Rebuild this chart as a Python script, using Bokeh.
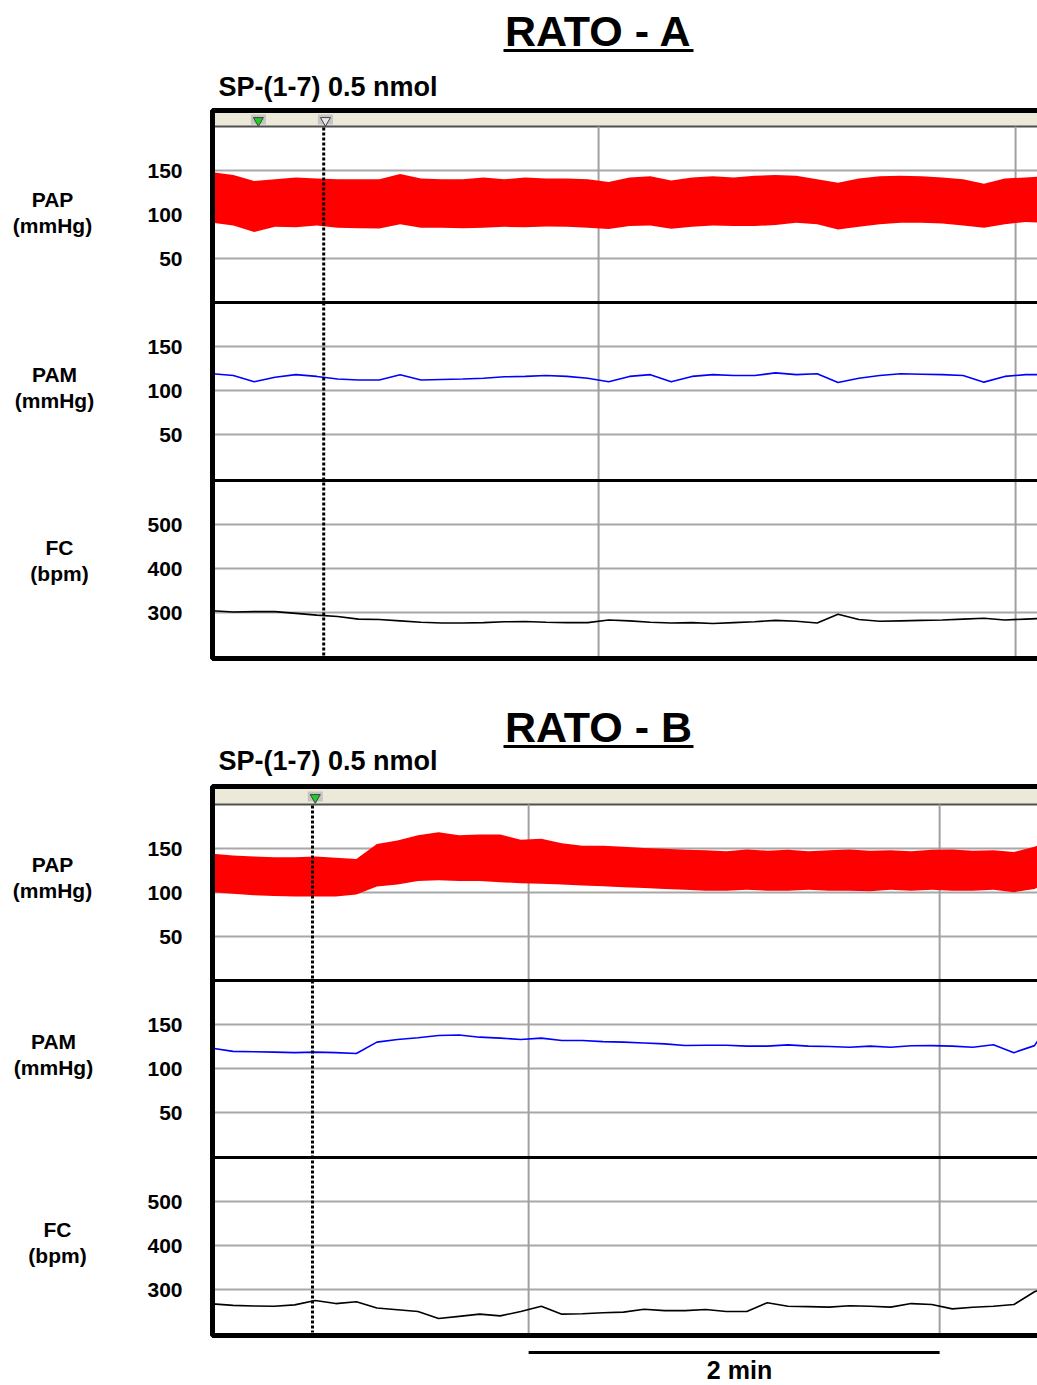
from bokeh.plotting import figure
from bokeh.models import Range1d
from bokeh.core.properties import value
from bokeh.embed import file_html
from bokeh.resources import INLINE

W, H = 1037, 1385
FONT = value("Liberation Sans")

# ---------------- data (time in seconds, pressures mmHg, HR bpm) ----------------
t_a = list(range(0, 241, 6))
pap_a_sys = [148, 145, 138, 140, 142, 141, 140, 140, 140, 146, 141, 140, 140, 142, 140, 142,
             141, 141, 140, 137, 142, 143.5, 138.5, 142, 143.5, 142, 144, 145, 144, 140, 136,
             141, 143.5, 144, 143.5, 142, 140, 135, 141, 142, 143.5]
pap_a_dia = [90.6, 87.5, 80, 86, 85.6, 87.5, 85, 84.5, 84, 89, 85, 85, 84.5, 85, 86, 85.6,
             86.5, 86, 85, 83.5, 86.8, 87.5, 83.7, 86, 87.5, 86.8, 87, 88, 90.6, 89, 83,
             86, 89, 90.6, 90.6, 89.8, 87.5, 85, 89, 91.5, 90.6]
pam_a = [119, 117, 110, 115, 118, 116, 113, 112, 112, 118, 112, 112.5, 113, 114, 115.6, 116,
         117, 116, 114, 110, 116, 118, 110, 116, 118, 117, 117, 120, 118, 119, 109,
         114, 117, 119, 118.5, 118, 117, 109.5, 116, 118, 118]
fc_a = [304, 301, 302, 302, 298, 294, 291, 285, 284, 281, 278, 276, 276, 277, 279, 279.5,
        278, 277, 277, 283, 281, 278, 276, 277, 275, 277, 279, 282, 280, 276, 296,
        284, 280, 281, 282, 283, 285, 287, 283, 285, 287]

t_b = list(range(0, 241, 6)) + [241]
pap_b_sys = [144, 142, 141, 140, 140, 141, 139.4, 138, 155, 159, 165, 168.6, 165, 166, 166, 160,
             161, 156, 153, 153, 152, 150.5, 149.6, 148.5, 148, 147, 149, 147.5, 148.5, 147,
             148, 149, 147.5, 148, 147, 148.5, 149, 147.5, 148, 146, 152, 153.4]
pap_b_dia = [100.4, 98.5, 97, 96, 95.5, 95.5, 95.5, 97.7, 106.8, 109, 113, 114, 113, 113, 111.7, 110.6,
             110, 109, 108, 107, 106, 105, 104, 103, 102, 102, 103, 102, 102, 103,
             102, 102, 101.5, 103, 102, 103, 102, 102, 103, 100.4, 104, 106]
pam_b = [123, 119.5, 119, 118.6, 118, 118.6, 118, 117, 130, 133, 135, 137.5, 138, 135.6, 134.5, 133,
         134.5, 131.8, 131.8, 130.5, 130, 129, 128, 126.1, 126.5, 126.5, 125.4, 125.4, 126.9, 125.4,
         125, 124.2, 125.4, 124.2, 125.8, 126, 125.4, 124.2, 126.9, 118, 126, 131.8]
fc_b = [267.4, 264, 262.5, 262, 265, 275, 268, 272, 258, 254, 250, 234, 239, 244, 240, 250,
        262, 244, 245, 247, 248.5, 255, 252, 252, 254.5, 250, 250, 270, 262, 261,
        260, 263, 262, 260, 268, 266, 256, 259.8, 262, 266, 295, 297.7]

inj_a, inj_b = 32, 29.2              # injection (dotted line), s
markers_a = [13.2, 32.5]              # event markers, s
markers_b = [30.0]
grid_a = [111.1, 231.1]               # vertical grid (every 2 min), s
grid_b = [92.3, 212.3]
scale_bar_s = 120                     # 2 min

press_ticks = [50, 100, 150]
hr_ticks = [300, 400, 500]
strip_names = ["PAP", "PAM", "FC"]
strip_units = ["(mmHg)", "(mmHg)", "(bpm)"]

# ---------------- figure ----------------
p = figure(width=W, height=H, x_range=Range1d(0, W), y_range=Range1d(H, 0),
           output_backend="svg", toolbar_location=None, min_border=0,
           x_axis_location=None, y_axis_location=None, outline_line_color=None)
p.grid.visible = False
p.background_fill_color = "white"
p.border_fill_color = "white"

X0 = 212          # left edge of the recording window
STRIP_H = 176


def strip_range(lo, hi, top):
    s = (hi - lo) / STRIP_H
    return Range1d(start=hi - (H - top) * s, end=hi + top * s)


def panel(key, t, sys, dia, pam, fc, inj, markers, marker_fills, grid_t, pxps,
          border_top, header_top, strip_tops, bottom, title, title_y, sub_y,
          label_pos):
    xr = "t" + key
    p.extra_x_ranges[xr] = Range1d(-X0 / pxps, (W - X0) / pxps)
    t_end = (W - X0) / pxps + 10
    specs = [((0, 200), press_ticks), ((0, 200), press_ticks), ((200, 600), hr_ticks)]
    yrs = []
    for i, ((lo, hi), ticks) in enumerate(specs):
        yn = f"{key}{i}"
        p.extra_y_ranges[yn] = strip_range(lo, hi, strip_tops[i])
        yrs.append(yn)

    # header band
    p.quad(left=[X0], right=[W + 10], top=[header_top], bottom=[strip_tops[0]],
           fill_color="#ECE9D8", line_color=None)
    p.segment(x0=[X0], x1=[W + 10], y0=[strip_tops[0]], y1=[strip_tops[0]],
              line_color="#505050", line_width=2)

    # grid lines
    for i, ((lo, hi), ticks) in enumerate(specs):
        p.segment(x0=[0] * 3, x1=[t_end] * 3, y0=ticks, y1=ticks,
                  x_range_name=xr, y_range_name=yrs[i],
                  line_color="#A8A8A8", line_width=2)
    p.segment(x0=grid_t, x1=grid_t, y0=[strip_tops[0]] * len(grid_t), y1=[bottom] * len(grid_t),
              x_range_name=xr, line_color="#A0A0A0", line_width=2)

    # traces
    p.varea(x=t, y1=dia, y2=sys, fill_color="#FF0000", x_range_name=xr, y_range_name=yrs[0])
    p.line(t, pam, line_color="#0000FF", line_width=1.6, x_range_name=xr, y_range_name=yrs[1])
    p.line(t, fc, line_color="black", line_width=1.6, x_range_name=xr, y_range_name=yrs[2])

    # separators and border
    for st in strip_tops[1:]:
        p.segment(x0=[X0], x1=[W + 10], y0=[st], y1=[st], line_color="black", line_width=3)
    p.quad(left=[X0], right=[W + 30], top=[border_top], bottom=[bottom],
           fill_color=None, line_color="black", line_width=5)

    # injection line
    p.segment(x0=[inj], x1=[inj], y0=[strip_tops[0] + 1], y1=[bottom - 3],
              x_range_name=xr, line_color="black", line_width=3, line_dash="3 2")

    # event markers
    my = (header_top + strip_tops[0]) / 2
    p.rect(x=markers, y=[my] * len(markers), width=15, height=10,
           width_units="screen", height_units="screen",
           fill_color="#C4C4C4", line_color=None, x_range_name=xr)
    p.scatter(x=markers, y=[my + 1] * len(markers), marker="inverted_triangle", size=10,
              fill_color=marker_fills, line_color="#404040", line_width=1, x_range_name=xr)

    # tick labels
    for i, ((lo, hi), ticks) in enumerate(specs):
        p.text(x=[182] * 3, y=ticks, text=[str(v) for v in ticks], y_range_name=yrs[i],
               text_align="right", text_baseline="middle", text_font=FONT,
               text_font_style="bold", text_font_size="21px", text_color="black")

    # strip labels
    for i in range(3):
        lx, ly = label_pos[i]
        p.text(x=[lx, lx], y=[ly, ly + 26], text=[strip_names[i], strip_units[i]],
               text_align="center", text_baseline="middle", text_font=FONT,
               text_font_style="bold", text_font_size="21px", text_color="black")

    # titles
    p.text(x=[598], y=[title_y], text=[title], text_align="center", text_baseline="middle",
           text_font=FONT, text_font_style="bold", text_font_size="43px", text_color="black")
    p.segment(x0=[503], x1=[693], y0=[title_y + 20], y1=[title_y + 20],
              line_color="black", line_width=3)
    p.text(x=[218], y=[sub_y], text=["SP-(1-7)  0.5 nmol"], text_align="left",
           text_baseline="middle", text_font=FONT, text_font_style="bold",
           text_font_size="27px", text_color="black")


panel("A", t_a, pap_a_sys, pap_a_dia, pam_a, fc_a, inj_a, markers_a, ["#22CC22", "#E8E8E8"],
      grid_a, 3.475, 110, 112, [126, 302, 480], 658, "RATO - A", 30, 86,
      [(52, 199), (54, 374), (59, 547)])
panel("B", t_b, pap_b_sys, pap_b_dia, pam_b, fc_b, inj_b, markers_b, ["#22CC22"],
      grid_b, 3.425, 786, 788, [804, 980, 1157], 1335, "RATO - B", 726, 760,
      [(52, 864), (53, 1041), (57, 1229)])

# time scale bar (2 min) under panel B
p.segment(x0=[grid_b[0]], x1=[grid_b[0] + scale_bar_s], y0=[1352], y1=[1352],
          x_range_name="tB", line_color="black", line_width=3)
p.text(x=[739], y=[1369], text=["2 min"], text_align="center", text_baseline="middle",
       text_font=FONT, text_font_style="bold", text_font_size="25px", text_color="black")

open("out.html", "w").write(file_html(p, INLINE))
